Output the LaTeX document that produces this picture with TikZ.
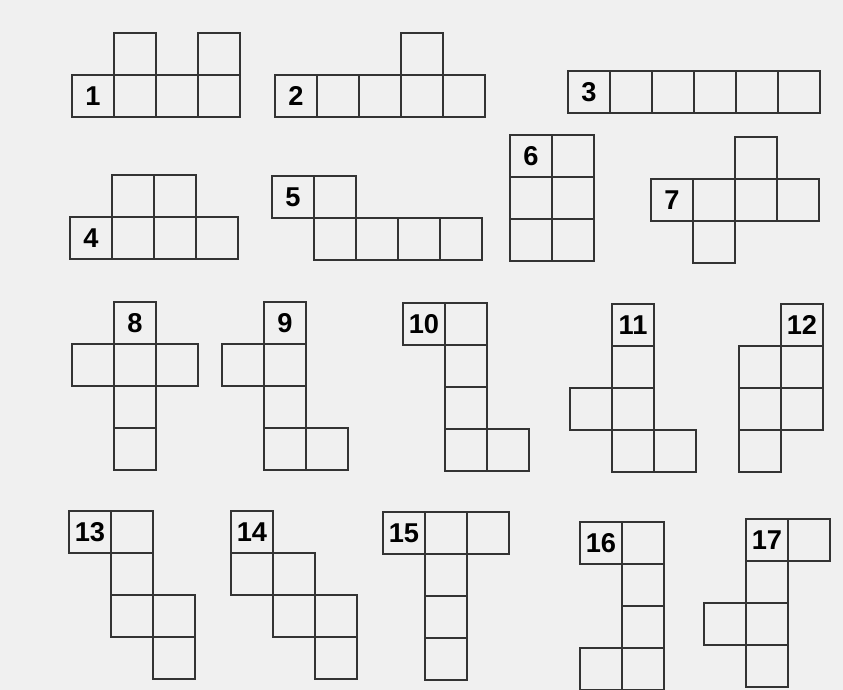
\documentclass[tikz,border=0pt]{standalone}
\usepackage{fontspec}
\setmainfont{Liberation Sans}

\begin{document}
\begin{tikzpicture}[x=0.02cm, y=-0.02cm,
        cell/.style={rectangle, draw=black!80, line width=0.9pt, minimum size=0.84cm, inner sep=0pt, font=\fontsize{15.5}{16}\selectfont\bfseries}
    ]
    \fill[black!6] (0,0) rectangle (843,690);
    \useasboundingbox (0,0) rectangle (843,690);
    % origin x / origin y / number / numbered cell / other cells of the net
    \foreach \ox/\oy/\num/\lx/\ly/\cells in {
            72/33/1/0/1/{1/0,3/0,1/1,2/1,3/1},
            275/33/2/0/1/{3/0,1/1,2/1,3/1,4/1},
            568/71/3/0/0/{1/0,2/0,3/0,4/0,5/0},
            70/175/4/0/1/{1/0,2/0,1/1,2/1,3/1},
            272/176/5/0/0/{1/0,1/1,2/1,3/1,4/1},
            510/135/6/0/0/{1/0,0/1,1/1,0/2,1/2},
            651/137/7/0/1/{2/0,1/1,2/1,3/1,1/2},
            72/302/8/1/0/{0/1,1/1,2/1,1/2,1/3},
            222/302/9/1/0/{0/1,1/1,1/2,1/3,2/3},
            403/303/10/0/0/{1/0,1/1,1/2,1/3,2/3},
            570/304/11/1/0/{1/1,0/2,1/2,1/3,2/3},
            739/304/12/1/0/{0/1,1/1,0/2,1/2,0/3},
            69/511/13/0/0/{1/0,1/1,1/2,2/2,2/3},
            231/511/14/0/0/{0/1,1/1,1/2,2/2,2/3},
            383/512/15/0/0/{1/0,2/0,1/1,1/2,1/3},
            580/522/16/0/0/{1/0,1/1,1/2,0/3,1/3},
            704/519/17/1/0/{2/0,1/1,0/2,1/2,1/3}}
    {
        \node[cell] (net\num) at ({\ox+42*\lx+21},{\oy+42*\ly+21}) {\num};
        \foreach \cx/\cy [count=\i] in \cells
            \node[cell] (net\num-\i) at ({\ox+42*\cx+21},{\oy+42*\cy+21}) {};
    }
\end{tikzpicture}
\end{document}
